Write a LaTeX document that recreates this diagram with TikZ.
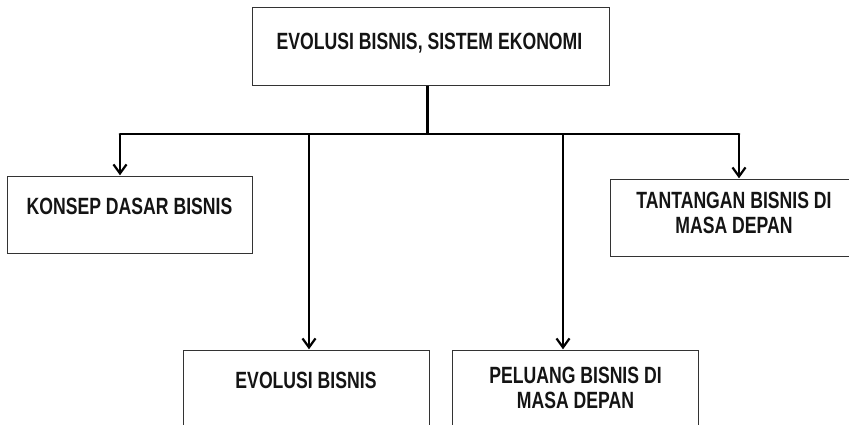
\documentclass[tikz,border=0pt]{standalone}
\usepackage{fontspec}
\newfontfamily\boxfont{Liberation Sans Bold}[FakeStretch=0.75]
\usetikzlibrary{arrows.meta}
\begin{document}
\begin{tikzpicture}[x=1pt,y=-1pt,
  box/.style={draw=black!80, line width=1.4pt, rectangle, inner sep=0pt, anchor=north west},
  lbl/.style={font=\boxfont\fontsize{23.5}{25}\selectfont, text=black!92, inner sep=0pt, anchor=base, align=center},
  conn/.style={draw=black, line width=2.8pt},
  arr/.style={conn, -{Straight Barb[length=9pt,width=13pt,line width=2.2pt]}, shorten >=0.7pt}]
  \useasboundingbox (0,0) rectangle (849,424);

  % boxes
  \node[box, minimum width=357, minimum height=78] (top) at (252,7) {};
  \node[box, minimum width=245, minimum height=77] (konsep) at (7,176) {};
  \node[box, minimum width=248, minimum height=77] (tantangan) at (610,179) {};
  \node[box, minimum width=246, minimum height=100] (evolusi) at (183,350) {};
  \node[box, minimum width=246, minimum height=100] (peluang) at (452,350) {};

  % labels (base anchor sits on the last line)
  \node[lbl] (ttop) at (429.5,49) {EVOLUSI BISNIS, SISTEM EKONOMI};
  \node[lbl] (tkonsep) at (129.5,214) {KONSEP DASAR BISNIS};
  \node[lbl] (ttantangan) at (734,233.3) {TANTANGAN BISNIS DI\\MASA DEPAN};
  \node[lbl] (tevolusi) at (306,388) {EVOLUSI BISNIS};
  \node[lbl] (tpeluang) at (575.5,408) {PELUANG BISNIS DI\\MASA DEPAN};

  % distribution bus
  \coordinate (stem) at ([xshift=-3.5pt]top.south);
  \coordinate (bK) at (120,134);
  \coordinate (bE) at (309,134);
  \coordinate (bP) at (563,134);
  \coordinate (bT) at (739,134);
  \draw[conn] (stem) -- (stem |- bK);
  \draw[conn, line cap=round] (bK) -- (bT);

  % branches
  \draw[arr] (bK) -- (bK |- konsep.north);
  \draw[arr] (bE) -- (bE |- evolusi.north);
  \draw[arr] (bP) -- (bP |- peluang.north);
  \draw[arr] (bT) -- (bT |- tantangan.north);
\end{tikzpicture}
\end{document}
